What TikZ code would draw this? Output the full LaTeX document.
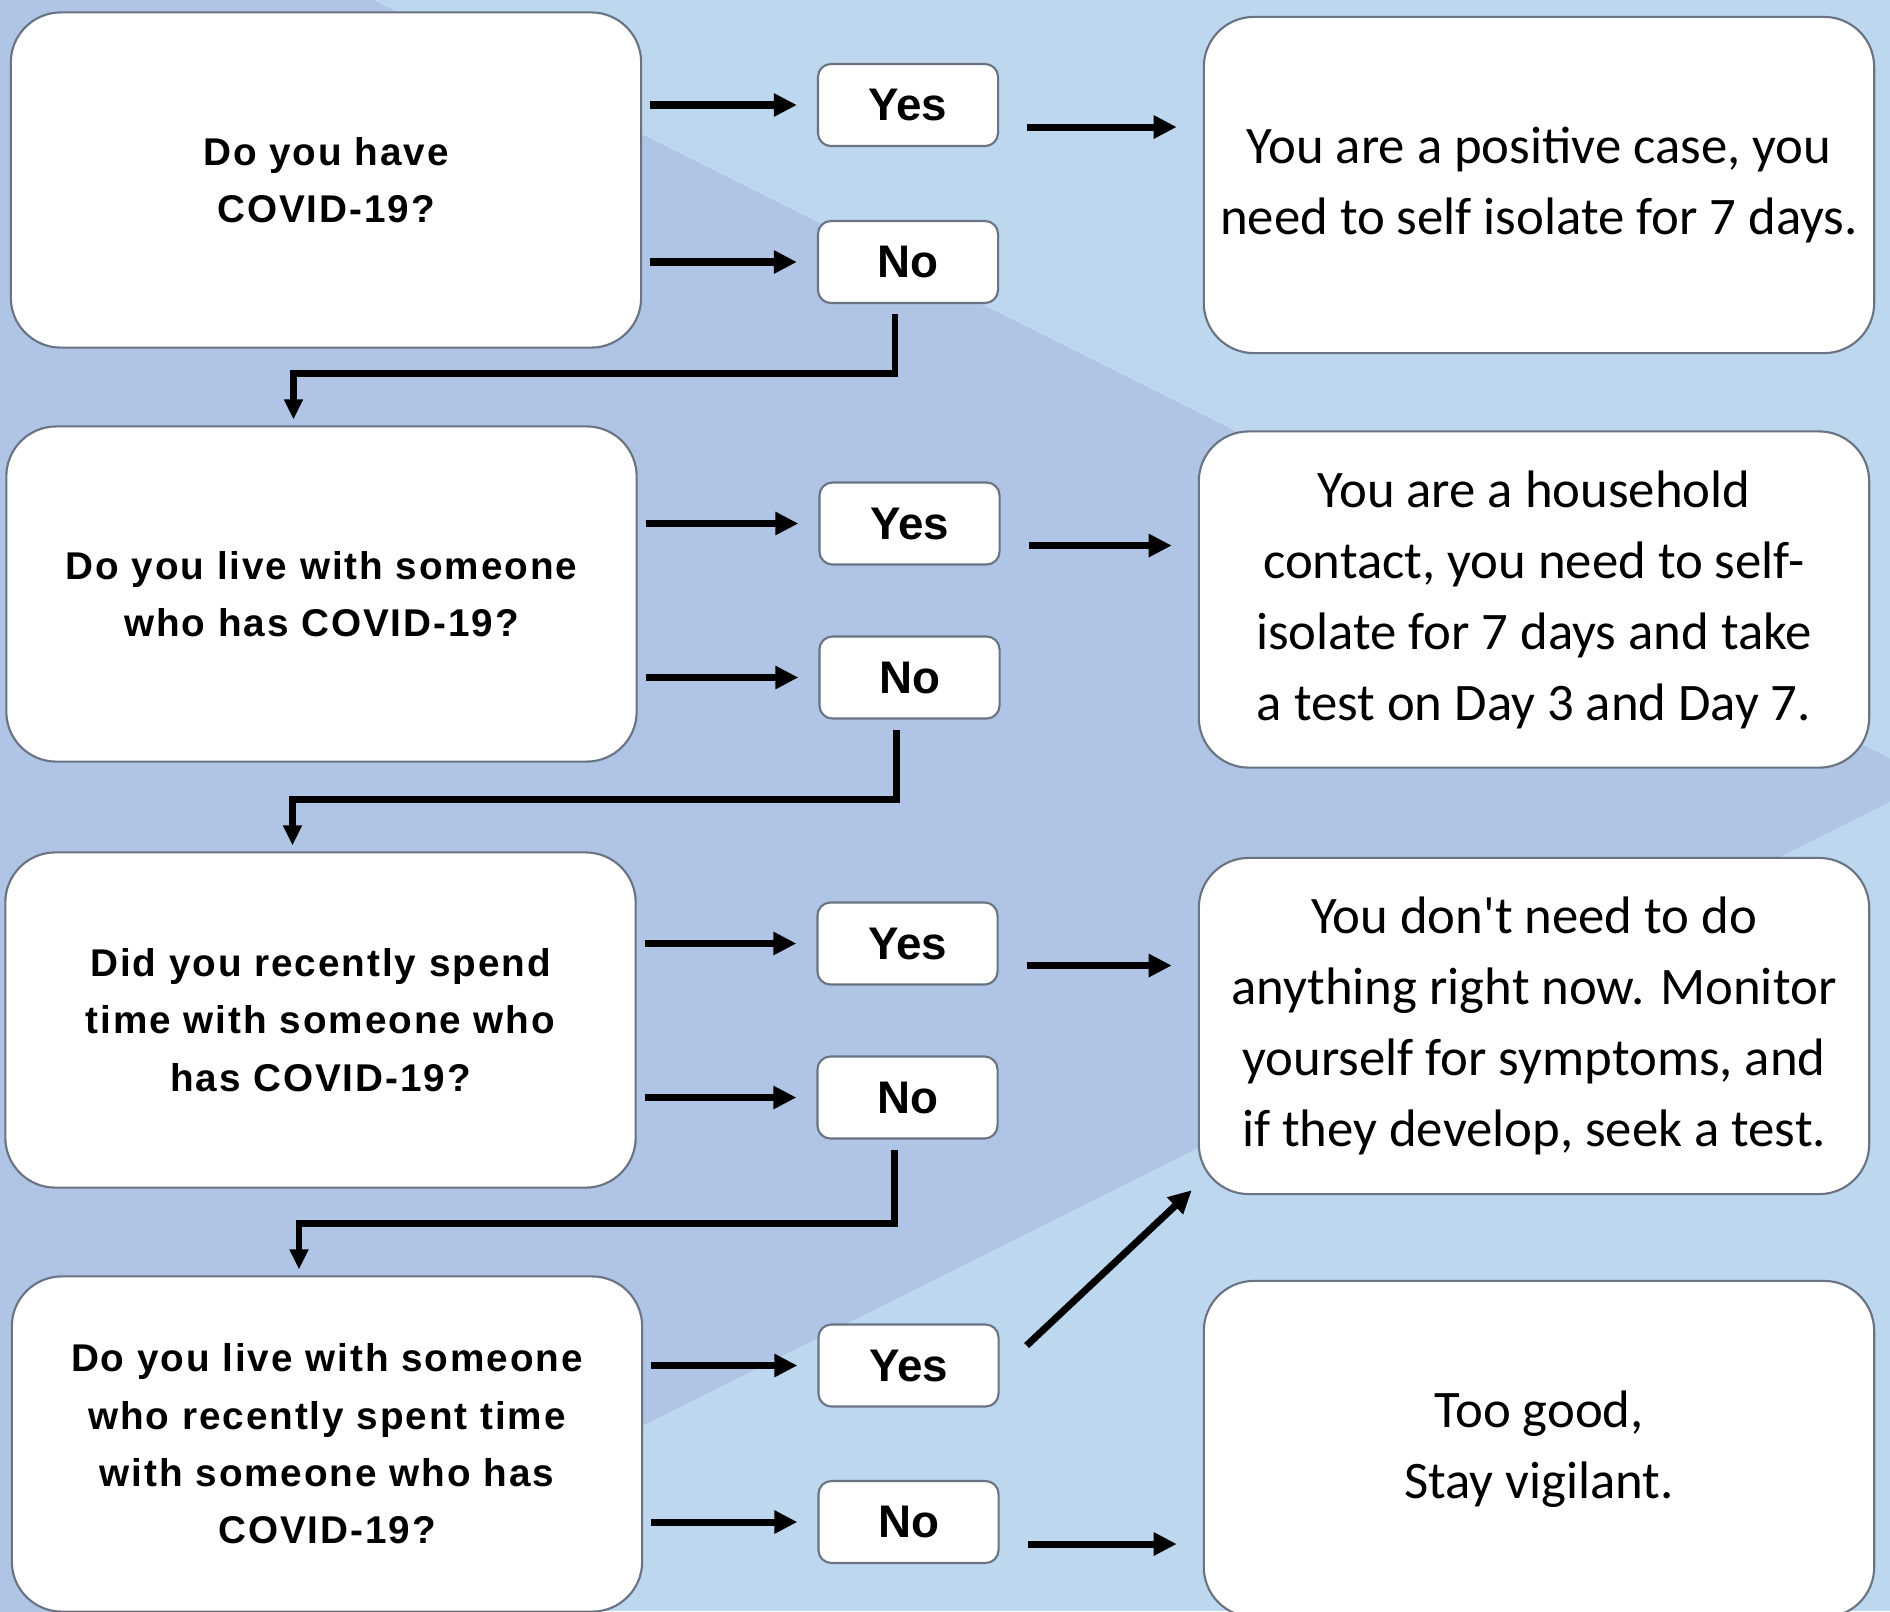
\documentclass[tikz,border=0pt]{standalone}
\usepackage{fontspec}
\setmainfont{Carlito}
\newfontfamily\qfont{Liberation Sans}[LetterSpace=5]
\newfontfamily\ansfont{Liberation Sans}
\usetikzlibrary{calc,arrows.meta}
\definecolor{bglight}{RGB}{189,215,238}
\definecolor{bgdark}{RGB}{176,196,230}
\definecolor{boxline}{RGB}{105,115,130}

\begin{document}
\begin{tikzpicture}[x=0.01cm, y=-0.01cm,
	question/.style={draw=boxline, line width=0.6pt, fill=white, rounded corners=0.5cm,
		minimum width=6.3cm, minimum height=3.35cm, align=center,
		font=\qfont\bfseries\fontsize{11}{16.3}\selectfont},
	answer/.style={draw=boxline, line width=0.6pt, fill=white, rounded corners=0.13cm,
		minimum width=1.8cm, minimum height=0.82cm,
		font=\ansfont\bfseries\fontsize{13}{15}\selectfont},
	result/.style={draw=boxline, line width=0.6pt, fill=white, rounded corners=0.5cm,
		minimum width=6.7cm, minimum height=3.36cm, align=center,
		font=\fontsize{15}{20.2}\selectfont},
	arr/.style={line width=2pt, -{Triangle[length=0.23cm,width=0.22cm]}},
	elb/.style={line width=1.8pt, -{Triangle[length=0.2cm,width=0.18cm]}},]

    \useasboundingbox (0,0) rectangle (1890,1611);
    \fill[bglight] (0,0) rectangle (1890,1611);
    \fill[bgdark] (0,0) -- (373,0) -- (1933,780) -- (0,1747) -- cycle;

    \node[question] (q1) at (326,180) {Do you have\\COVID-19?};
    \node[question] (q2) at (321.5,594) {Do you live with someone\\who has COVID-19?};
    \node[question] (q3) at (320.5,1020) {Did you recently spend\\time with someone who\\has COVID-19?};
    \node[question] (q4) at (327,1444) {Do you live with someone\\who recently spent time\\with someone who has\\COVID-19?};

    \node[answer] (y1) at (908,105) {Yes};
    \node[answer] (n1) at (908,262) {No};
    \node[answer] (y2) at (909.5,523.5) {Yes};
    \node[answer] (n2) at (909.5,677.5) {No};
    \node[answer] (y3) at (907.5,943.5) {Yes};
    \node[answer] (n3) at (907.5,1097.5) {No};
    \node[answer] (y4) at (908.5,1365.5) {Yes};
    \node[answer] (n4) at (908.5,1522) {No};

    \node[result] (r1) at (1539,185) {You are a positive case, you\\need to self isolate for 7 days.};
    \node[result] (r2) at (1534,599.5) {You are a household\\contact, you need to self-\\isolate for 7 days and take\\a test on Day 3 and Day 7.};
    \node[result] (r3) at (1534,1026) {You don\textquotesingle t need to do\\anything right now. Monitor\\yourself for symptoms, and\\if they develop, seek a test.};
    \node[result] (r4) at (1539,1449) {Too good,\\Stay vigilant.};

    \foreach \i in {1,...,4} {
        \draw[arr, shorten <=0.08cm, shorten >=0.2cm] (q\i.east |- y\i) -- (y\i);
        \draw[arr, shorten <=0.08cm, shorten >=0.2cm] (q\i.east |- n\i) -- (n\i);
    }

    \foreach \s/\t in {y1/r1,y2/r2,y3/r3,n4/r4} {
        \path ([yshift=-0.22cm]\s.east) coordinate (out);
        \draw[arr, shorten <=0.28cm, shorten >=0.26cm] (out) -- (out -| \t.west);
    }
    \draw[arr] ($(y4.east)+(27,-20)$) -- ($(r3.south west)+(-6,-5)$);

    \foreach \a/\b in {n1/q2,n2/q3,n3/q4} {
        \draw[elb] ($(\a.south)+(-13,10)$) |- ($(\b.north)+(-28,-52)$) -- ($(\b.north)+(-28,-6)$);
    }
\end{tikzpicture}
\end{document}
